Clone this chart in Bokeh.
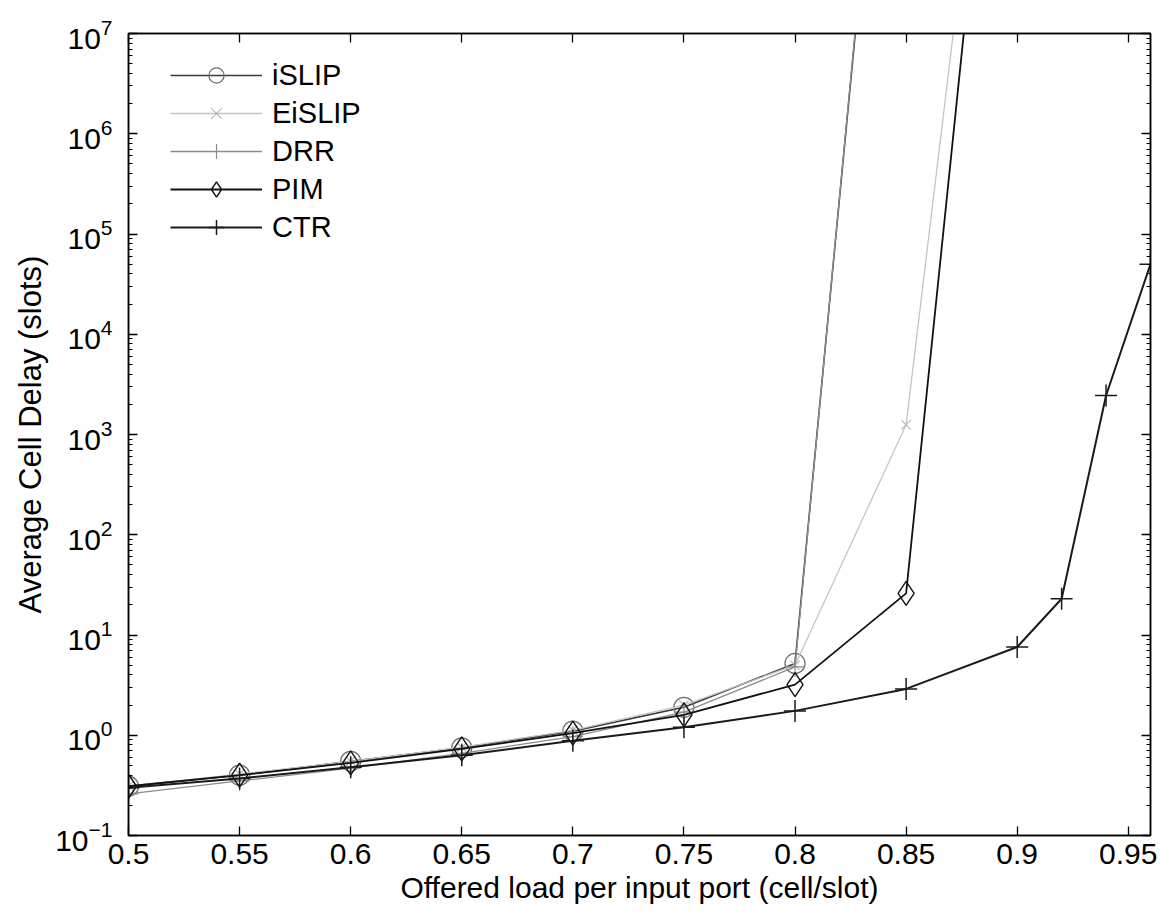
from bokeh.plotting import figure
from bokeh.models import (Range1d, FixedTicker, NumeralTickFormatter, LinearAxis, LogAxis,
                          Legend, LegendItem, LogTicker, CustomJSTickFormatter)
from bokeh.embed import file_html
from bokeh.resources import INLINE

# ---- data ----
x_islip = [0.5, 0.55, 0.6, 0.65, 0.7, 0.75, 0.8, 0.85]
y_islip = [0.31, 0.40, 0.55, 0.75, 1.10, 1.90, 5.2, 2e12]

x_eislip = [0.5, 0.55, 0.6, 0.65, 0.7, 0.75, 0.8, 0.85, 0.9]
y_eislip = [0.31, 0.41, 0.55, 0.76, 1.12, 2.0, 5.0, 1250, 2e12]

x_drr = [0.5, 0.55, 0.6, 0.65, 0.7, 0.75, 0.8, 0.85]
y_drr = [0.26, 0.35, 0.47, 0.66, 0.97, 1.7, 4.8, 2.5e12]

x_pim = [0.5, 0.55, 0.6, 0.65, 0.7, 0.75, 0.8, 0.85, 0.9]
y_pim = [0.31, 0.40, 0.53, 0.73, 1.05, 1.6, 3.2, 26, 1.5e12]

x_ctr = [0.5, 0.55, 0.6, 0.65, 0.7, 0.75, 0.8, 0.85, 0.9, 0.92, 0.94, 0.96]
y_ctr = [0.30, 0.37, 0.48, 0.63, 0.88, 1.2, 1.75, 2.9, 7.6, 23, 2450, 5e4]

x_ticks = [0.5, 0.55, 0.6, 0.65, 0.7, 0.75, 0.8, 0.85, 0.9, 0.95]
x_label = "Offered load per input port (cell/slot)"
y_label = "Average Cell Delay (slots)"

FONT = "Liberation Sans"

p = figure(width=1158, height=919, y_axis_type="log",
           x_range=Range1d(0.5, 0.96), y_range=Range1d(0.1, 1e7),
           output_backend="svg", toolbar_location=None,
           min_border_left=128, min_border_right=8, min_border_top=33, min_border_bottom=84)
p.grid.visible = False
p.outline_line_color = "black"
p.outline_line_width = 1.5
p.background_fill_color = "white"

def style_axis(ax, labels=True):
    ax.axis_line_color = "black"
    ax.axis_line_width = 1.5
    ax.major_tick_in = 9
    ax.major_tick_out = 0
    ax.minor_tick_in = 4
    ax.minor_tick_out = 0
    ax.major_tick_line_color = "black"
    ax.major_tick_line_width = 1.3
    ax.minor_tick_line_color = "black"
    ax.major_label_text_font = FONT
    ax.major_label_text_color = "black"
    ax.axis_label_text_font = FONT
    ax.axis_label_text_font_style = "normal"
    ax.axis_label_text_color = "black"
    if not labels:
        ax.formatter = CustomJSTickFormatter(code="return '';")
        ax.major_label_standoff = 0

xa = p.xaxis[0]
style_axis(xa)
xa.ticker = FixedTicker(ticks=x_ticks)
xa.formatter = NumeralTickFormatter(format="0.[00]")
xa.minor_tick_line_color = None
xa.major_label_text_font_size = "30px"
xa.major_label_standoff = 8
xa.axis_label = x_label
xa.axis_label_text_font_size = "30px"
xa.axis_label_standoff = 4

ya = p.yaxis[0]
style_axis(ya)
ya.major_label_text_font_size = "30px"
ya.major_label_standoff = 16
ya.axis_label = y_label
ya.axis_label_text_font_size = "31px"
ya.axis_label_standoff = 4
ya.ticker = LogTicker(num_minor_ticks=10)

xt = LinearAxis(ticker=FixedTicker(ticks=x_ticks))
style_axis(xt, labels=False)
xt.minor_tick_line_color = None
p.add_layout(xt, "above")

yr = LogAxis(ticker=LogTicker(num_minor_ticks=10))
style_axis(yr, labels=False)
p.add_layout(yr, "right")

# ---- series ----
l_islip = p.line(x_islip, y_islip, line_color="#3a3a3a", line_width=1.6)
m_islip = p.scatter(x_islip[:-1], y_islip[:-1], marker="circle", size=20,
                    fill_color=None, line_color="#707070", line_width=1.3)

l_eislip = p.line(x_eislip, y_eislip, line_color="#c4c4c4", line_width=1.3)
m_eislip = p.scatter(x_eislip[:-1], y_eislip[:-1], marker="x", size=13,
                     line_color="#b8b8b8", line_width=1.2)

l_drr = p.line(x_drr, y_drr, line_color="#8c8c8c", line_width=1.3)
m_drr = p.scatter(x_drr[:-1], y_drr[:-1], marker="cross", size=20,
                  line_color="#8c8c8c", line_width=1.2)

l_pim = p.line(x_pim, y_pim, line_color="#111111", line_width=1.8)
m_pim = p.scatter(x_pim[:-1], y_pim[:-1], marker="diamond", size=24,
                  fill_color=None, line_color="#111111", line_width=1.4)

l_ctr = p.line(x_ctr, y_ctr, line_color="#1a1a1a", line_width=2.0)
m_ctr = p.scatter(x_ctr, y_ctr, marker="cross", size=22,
                  line_color="#1a1a1a", line_width=1.5)

legend = Legend(items=[
    LegendItem(label="iSLIP", renderers=[l_islip, m_islip]),
    LegendItem(label="EiSLIP", renderers=[l_eislip, m_eislip]),
    LegendItem(label="DRR", renderers=[l_drr, m_drr]),
    LegendItem(label="PIM", renderers=[l_pim, m_pim]),
    LegendItem(label="CTR", renderers=[l_ctr, m_ctr]),
], location=(42, 589))
legend.border_line_color = None
legend.background_fill_alpha = 0
legend.padding = 0
legend.margin = 0
legend.spacing = 0
legend.glyph_width = 92
legend.glyph_height = 38
legend.label_height = 38
legend.label_standoff = 10
legend.label_text_font = FONT
legend.label_text_font_size = "29px"
legend.label_text_color = "black"
p.add_layout(legend, "center")

open("out.html", "w").write(file_html(p, INLINE))
